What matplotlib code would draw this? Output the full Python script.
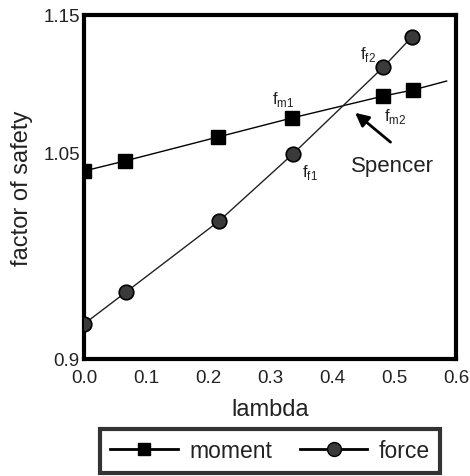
import matplotlib
matplotlib.use("Agg")
import matplotlib.pyplot as plt

plt.rcParams['font.family'] = ['Liberation Sans', 'DejaVu Sans']
plt.rcParams['mathtext.fontset'] = 'custom'
plt.rcParams['mathtext.rm'] = 'Liberation Sans'

# data
moment_lambda = [0.0, 0.066, 0.216, 0.335, 0.483, 0.531]
moment_fos = [1.0366, 1.0439, 1.0613, 1.0751, 1.0911, 1.0955]
moment_line_end = (0.585, 1.102)
force_lambda = [0.0, 0.068, 0.218, 0.337, 0.483, 0.529]
force_fos = [0.9254, 0.9487, 1.0003, 1.049, 1.1122, 1.134]
xticks = [0.0, 0.1, 0.2, 0.3, 0.4, 0.5, 0.6]
xticklabels = ['0.0', '0.1', '0.2', '0.3', '0.4', '0.5', '0.6']
yticks = [0.9, 1.05, 1.15]
yticklabels = ['0.9', '1.05', '1.15']

TXT = '#222222'

fig = plt.figure(figsize=(4.7, 4.77), dpi=100)
ax = fig.add_axes([0.1787, 0.2453, 0.7913, 0.7212])

ax.plot(moment_lambda + [moment_line_end[0]], moment_fos + [moment_line_end[1]],
        color='black', lw=1.0, zorder=2)
ax.plot(moment_lambda, moment_fos, ls='none', marker='s', ms=10.5,
        mfc='black', mec='black', zorder=3)
ax.plot(force_lambda, force_fos, color='#222222', lw=1.0, zorder=2)
ax.plot(force_lambda, force_fos, ls='none', marker='o', ms=10.5,
        mfc='#3a3a3a', mec='black', mew=1.2, zorder=3)

ax.set_xlim(0, 0.6)
ax.set_ylim(0.9, 1.15)
ax.set_xticks(xticks)
ax.set_xticklabels(xticklabels)
ax.set_yticks(yticks)
ax.set_yticklabels(yticklabels)
ax.tick_params(length=0, labelsize=13.5, labelcolor=TXT)
ax.tick_params(axis='x', pad=7)
ax.tick_params(axis='y', pad=3)
for s in ax.spines.values():
    s.set_linewidth(3)
ax.set_xlabel('lambda', fontsize=17, labelpad=9, color=TXT)
ax.set_ylabel('factor of safety', fontsize=17, labelpad=7, color=TXT)

ax.text(0.321, 1.089, r'f$_{\mathrm{m1}}$', fontsize=12, ha='center', va='center', color=TXT)
ax.text(0.502, 1.0766, r'f$_{\mathrm{m2}}$', fontsize=12, ha='center', va='center', color=TXT)
ax.text(0.365, 1.036, r'f$_{\mathrm{f1}}$', fontsize=12, ha='center', va='center', color=TXT)
ax.text(0.458, 1.1217, r'f$_{\mathrm{f2}}$', fontsize=12, ha='center', va='center', color=TXT)
ax.annotate('', xy=(0.434, 1.0802), xytext=(0.498, 1.0563),
            arrowprops=dict(arrowstyle='-|>,head_length=0.8,head_width=0.4',
                            color='black', lw=2))
ax.text(0.497, 1.0403, 'Spencer', fontsize=16, ha='center', va='center', color=TXT)

h1, = ax.plot([], [], color='black', lw=2, marker='s', ms=9, mfc='black', mec='black')
h2, = ax.plot([], [], color='black', lw=2, marker='o', ms=10, mfc='#3a3a3a', mec='black')
leg = fig.legend([h1, h2], ['moment', 'force'], loc='upper center',
                 bbox_to_anchor=(0.575, 0.0985), ncol=2, fontsize=16.5,
                 frameon=True, fancybox=False, handlelength=2.95,
                 columnspacing=1.2, borderaxespad=0, borderpad=0.45,
                 handletextpad=0.5)
for t in leg.get_texts():
    t.set_color(TXT)
leg.get_frame().set_edgecolor('black')
leg.get_frame().set_linewidth(3)

fig.savefig('out.png', dpi=100)
